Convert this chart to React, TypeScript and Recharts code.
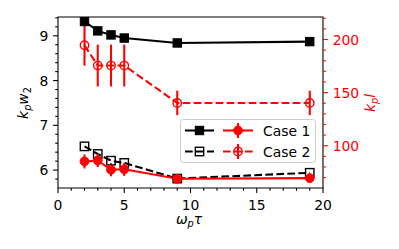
import { ComposedChart, Line, XAxis, YAxis, ErrorBar, ReferenceArea } from "recharts";

// omega_p * tau
const omegaTau = [2, 3, 4, 5, 9, 19];
// k_p w_2 (left axis)
const w2Case1 = [9.32, 9.11, 9.02, 8.95, 8.84, 8.87];
const w2Case2 = [6.53, 6.36, 6.21, 6.16, 5.81, 5.94];
// k_p l (right axis) with error
const lCase1 = [85.2, 86.1, 77.4, 77.8, 68.9, 69.5];
const lCase1Err = [6.6, 6.2, 6.2, 6.2, 4, 4];
const lCase2 = [194.6, 175.5, 175.5, 175.5, 140.3, 140.3];
const lCase2Err = [19.2, 19.7, 19.7, 19.7, 11.5, 11.5];

const xMajor = [0, 5, 10, 15, 20];
const xMinor = [1, 2, 3, 4, 6, 7, 8, 9, 11, 12, 13, 14, 16, 17, 18, 19];
const leftMajor = [6, 7, 8, 9];
const leftMinor = [5.8, 6.2, 6.4, 6.6, 6.8, 7.2, 7.4, 7.6, 7.8, 8.2, 8.4, 8.6, 8.8, 9.2, 9.4];
const rightMajor = [100, 150, 200];
const rightMinor = [70, 80, 90, 110, 120, 130, 140, 160, 170, 180, 190, 210, 220];

const RED = "#ff0000";
const FONT = "DejaVu Sans";
const FS = 13.9;
const MAJOR_LEN = 4.9;
const MINOR_LEN = 2.8;
const DASH = "7.7 3.3";

const rows = omegaTau.map((x, i) => ({
  x,
  w1: w2Case1[i],
  w2: w2Case2[i],
  l1: lCase1[i],
  l1err: lCase1Err[i],
  l2: lCase2[i],
  l2err: lCase2Err[i],
}));

const XTick = ({ x, y, payload }: any) => {
  const major = xMajor.includes(payload.value);
  return (
    <g>
      <line x1={x} x2={x} y1={y} y2={y + (major ? MAJOR_LEN : MINOR_LEN)} stroke="#000" strokeWidth={1.1} />
      {major && (
        <text x={x} y={y + 22} textAnchor="middle" fontFamily={FONT} fontSize={FS} fill="#000">
          {payload.value}
        </text>
      )}
    </g>
  );
};

const LeftTick = ({ x, y, payload }: any) => {
  const major = leftMajor.includes(payload.value);
  return (
    <g>
      <line x1={x} x2={x - (major ? MAJOR_LEN : MINOR_LEN)} y1={y} y2={y} stroke="#000" strokeWidth={1.1} />
      {major && (
        <text x={x - 9.7} y={y + 5} textAnchor="end" fontFamily={FONT} fontSize={FS} fill="#000">
          {payload.value}
        </text>
      )}
    </g>
  );
};

const RightTick = ({ x, y, payload }: any) => {
  const major = rightMajor.includes(payload.value);
  return (
    <g>
      <line x1={x} x2={x + (major ? MAJOR_LEN : MINOR_LEN)} y1={y} y2={y} stroke={RED} strokeWidth={1.1} />
      {major && (
        <text x={x + 9.7} y={y + 5} textAnchor="start" fontFamily={FONT} fontSize={FS} fill={RED}>
          {payload.value}
        </text>
      )}
    </g>
  );
};

const squareDot = (filled: boolean) => (p: any) => (
  <rect
    key={`sq-${filled}-${p.index}`}
    x={p.cx - 4.2}
    y={p.cy - 4.2}
    width={8.4}
    height={8.4}
    fill={filled ? "#000" : "none"}
    stroke="#000"
    strokeWidth={filled ? 1 : 1.4}
  />
);

const circleDot = (filled: boolean) => (p: any) => (
  <circle
    key={`ci-${filled}-${p.index}`}
    cx={p.cx}
    cy={p.cy}
    r={filled ? 4.4 : 4.2}
    fill={filled ? RED : "none"}
    stroke={RED}
    strokeWidth={filled ? 1 : 1.4}
  />
);

function Legend() {
  const r1 = 130.5;
  const r2 = 151.5;
  return (
    <g>
      <rect x={180.5} y={119.5} width={135} height={43} rx={3} fill="#fff" fillOpacity={0.8} stroke="#cccccc" strokeWidth={1} />
      {/* row 1 */}
      <line x1={185} x2={214} y1={r1} y2={r1} stroke="#000" strokeWidth={2.08} />
      <rect x={199.5 - 4.2} y={r1 - 4.2} width={8.4} height={8.4} fill="#000" stroke="#000" />
      <line x1={223} x2={253} y1={r1} y2={r1} stroke={RED} strokeWidth={2.08} />
      <line x1={238} x2={238} y1={r1 - 7.5} y2={r1 + 7.5} stroke={RED} strokeWidth={2.08} />
      <circle cx={238} cy={r1} r={4.4} fill={RED} stroke={RED} />
      <text x={263} y={r1 + 5} fontFamily={FONT} fontSize={FS} fill="#000">Case 1</text>
      {/* row 2 */}
      <line x1={185} x2={214} y1={r2} y2={r2} stroke="#000" strokeWidth={2.08} strokeDasharray={DASH} />
      <rect x={199.5 - 4.2} y={r2 - 4.2} width={8.4} height={8.4} fill="none" stroke="#000" strokeWidth={1.4} />
      <line x1={223} x2={253} y1={r2} y2={r2} stroke={RED} strokeWidth={2.08} strokeDasharray={DASH} />
      <line x1={238} x2={238} y1={r2 - 7.5} y2={r2 + 7.5} stroke={RED} strokeWidth={2.08} />
      <circle cx={238} cy={r2} r={4.2} fill="none" stroke={RED} strokeWidth={1.4} />
      <text x={263} y={r2 + 5} fontFamily={FONT} fontSize={FS} fill="#000">Case 2</text>
    </g>
  );
}

function AxisLabels() {
  const sub = 9.7;
  return (
    <g fontFamily={FONT} fontSize={FS}>
      <text transform="translate(27.5,103) rotate(-90)" textAnchor="middle" fill="#000">
        <tspan fontStyle="italic">k</tspan>
        <tspan fontStyle="italic" fontSize={sub} dy={3}>p</tspan>
        <tspan fontStyle="italic" dy={-3}>w</tspan>
        <tspan fontSize={sub} dy={3}>2</tspan>
      </text>
      <text transform="translate(375,103) rotate(-90)" textAnchor="middle" fill={RED}>
        <tspan fontStyle="italic">k</tspan>
        <tspan fontStyle="italic" fontSize={sub} dy={3}>p</tspan>
        <tspan fontStyle="italic" dy={-3}>l</tspan>
      </text>
      <text x={189} y={224} textAnchor="middle" fill="#000">
        <tspan fontStyle="italic">ω</tspan>
        <tspan fontStyle="italic" fontSize={sub} dy={3}>p</tspan>
        <tspan fontStyle="italic" dy={-3}>τ</tspan>
      </text>
    </g>
  );
}

export default function App() {
  return (
    <div style={{ position: "absolute", left: 0, top: 0, width: 399, height: 249, background: "#fff" }}>
      <ComposedChart width={399} height={249} data={rows} margin={{ top: 17, right: 0, bottom: 0, left: 0 }}>
        <XAxis
          dataKey="x"
          type="number"
          domain={[0, 20]}
          ticks={[...xMajor, ...xMinor].sort((a, b) => a - b)}
          interval={0}
          tick={<XTick />}
          tickLine={false}
          axisLine={false}
          tickSize={0}
          tickMargin={0}
          height={61}
          allowDataOverflow
        />
        <YAxis
          yAxisId="left"
          orientation="left"
          type="number"
          domain={[5.6, 9.42]}
          ticks={[...leftMajor, ...leftMinor].sort((a, b) => a - b)}
          interval={0}
          tick={<LeftTick />}
          tickLine={false}
          axisLine={false}
          tickSize={0}
          tickMargin={0}
          width={58}
          allowDataOverflow
        />
        <YAxis
          yAxisId="right"
          orientation="right"
          type="number"
          domain={[60.2, 221.2]}
          ticks={[...rightMajor, ...rightMinor].sort((a, b) => a - b)}
          interval={0}
          tick={<RightTick />}
          tickLine={false}
          axisLine={false}
          tickSize={0}
          tickMargin={0}
          width={76}
          allowDataOverflow
        />
        <Line
          yAxisId="left"
          dataKey="w1"
          stroke="#000"
          strokeWidth={2.08}
          dot={squareDot(true)}
          activeDot={false}
          isAnimationActive={false}
        />
        <Line
          yAxisId="left"
          dataKey="w2"
          stroke="#000"
          strokeWidth={2.08}
          strokeDasharray={DASH}
          dot={squareDot(false)}
          activeDot={false}
          isAnimationActive={false}
        />
        <Line
          yAxisId="right"
          dataKey="l1"
          stroke={RED}
          strokeWidth={2.08}
          dot={circleDot(true)}
          activeDot={false}
          isAnimationActive={false}
        >
          <ErrorBar dataKey="l1err" direction="y" width={0} stroke={RED} strokeWidth={2.08} isAnimationActive={false} />
        </Line>
        <Line
          yAxisId="right"
          dataKey="l2"
          stroke={RED}
          strokeWidth={2.08}
          strokeDasharray={DASH}
          dot={circleDot(false)}
          activeDot={false}
          isAnimationActive={false}
        >
          <ErrorBar dataKey="l2err" direction="y" width={0} stroke={RED} strokeWidth={2.08} isAnimationActive={false} />
        </Line>
        <ReferenceArea
          yAxisId="left"
          x1={0}
          x2={20}
          y1={5.6}
          y2={9.42}
          fill="none"
          fillOpacity={0}
          stroke="#000"
          strokeWidth={1.1}
          ifOverflow="visible"
        />
      </ComposedChart>
      <svg width={399} height={249} style={{ position: "absolute", left: 0, top: 0, pointerEvents: "none" }}>
        <Legend />
        <AxisLabels />
      </svg>
    </div>
  );
}
